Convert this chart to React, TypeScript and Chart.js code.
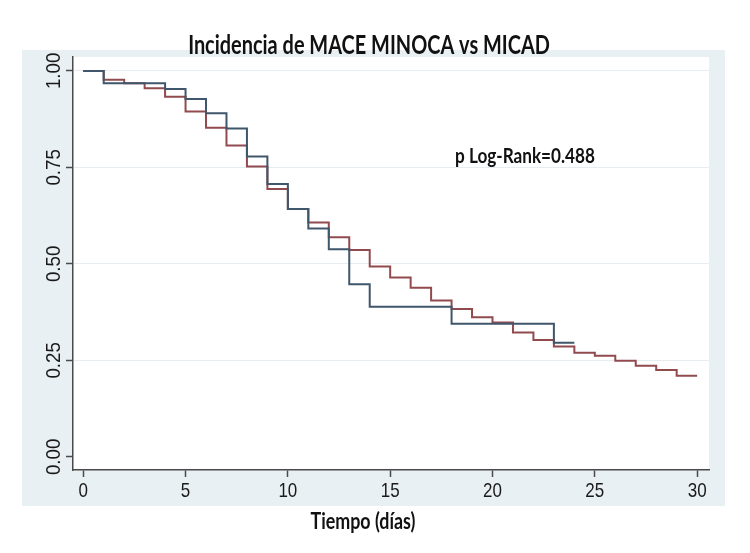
import React, { useEffect, useRef } from "react";
import { Chart, registerables } from "chart.js";

Chart.register(...registerables);

const titleText = "Incidencia de MACE MINOCA vs MICAD";
const xAxisTitle = "Tiempo (días)";
const annotationText = "p Log-Rank=0.488";
const annotationPos = { x: 18.17, y: 0.762 };

const minocaDays = [0, 1, 2, 3, 4, 5, 6, 7, 8, 9, 10, 11, 12, 13, 14, 15, 16, 17, 18, 19, 20, 21, 22, 23, 24];
const minocaValues = [1.0, 0.968, 0.968, 0.968, 0.953, 0.927, 0.89, 0.851, 0.778, 0.707, 0.642, 0.592, 0.538, 0.447, 0.389, 0.389, 0.389, 0.389, 0.345, 0.345, 0.345, 0.345, 0.345, 0.296, 0.296];

const micadDays = [0, 1, 2, 3, 4, 5, 6, 7, 8, 9, 10, 11, 12, 13, 14, 15, 16, 17, 18, 19, 20, 21, 22, 23, 24, 25, 26, 27, 28, 29, 30];
const micadValues = [1.0, 0.977, 0.968, 0.955, 0.933, 0.895, 0.853, 0.807, 0.752, 0.694, 0.642, 0.607, 0.569, 0.536, 0.493, 0.465, 0.438, 0.405, 0.383, 0.362, 0.348, 0.322, 0.303, 0.286, 0.27, 0.262, 0.249, 0.236, 0.225, 0.21, 0.21];

const xTicks = [0, 5, 10, 15, 20, 25, 30];
const yTicks = [0, 0.25, 0.5, 0.75, 1.0];

const BLUE = "#3f566b";
const RED = "#914b4f";
const AXIS = "#4a4a4a";
const GRID = "#e6ecef";
const REGION = "#e9f0f3";

function fitFont(ctx: CanvasRenderingContext2D, text: string, family: string, weight: string, targetW: number) {
  ctx.font = `${weight} 20px ${family}`;
  const w = ctx.measureText(text).width;
  return (20 * targetW) / w;
}

const decorPlugin = {
  id: "decor",
  beforeDraw(chart: any) {
    const { ctx, chartArea } = chart;
    ctx.save();
    ctx.fillStyle = "#ffffff";
    ctx.fillRect(0, 0, chart.width, chart.height);
    ctx.fillStyle = REGION;
    ctx.fillRect(22, 50, 703, 456);
    ctx.fillStyle = "#ffffff";
    ctx.fillRect(chartArea.left, chartArea.top, chartArea.right - chartArea.left, chartArea.bottom - chartArea.top);
    ctx.restore();
  },
  afterDraw(chart: any) {
    const { ctx, chartArea } = chart;
    const xs = chart.scales.x;
    const ys = chart.scales.y;
    ctx.save();
    ctx.fillStyle = "#1a1a1a";
    // x tick labels
    ctx.font = "17px 'Liberation Sans', Arial, sans-serif";
    ctx.textAlign = "center";
    ctx.textBaseline = "middle";
    for (const t of xTicks) {
      const px = xs.getPixelForValue(t);
      ctx.save();
      ctx.translate(px, chartArea.bottom + 22);
      ctx.scale(1, 1.15);
      ctx.fillText(String(t), 0, 0);
      ctx.restore();
    }
    // y tick labels, rotated
    for (const t of yTicks) {
      const py = ys.getPixelForValue(t);
      ctx.save();
      ctx.translate(chartArea.left - 18, py);
      ctx.rotate(-Math.PI / 2);
      ctx.scale(1.1, 1.15);
      ctx.fillText(t.toFixed(2), 0, 0);
      ctx.restore();
    }
    // title
    const fam = "Lato, 'Open Sans', sans-serif";
    ctx.fillStyle = "#111111";
    let size = fitFont(ctx, titleText, fam, "bold", 362);
    ctx.font = `bold ${size}px ${fam}`;
    ctx.textBaseline = "alphabetic";
    ctx.save();
    ctx.translate(369, 54);
    ctx.scale(1, 1.3);
    ctx.fillText(titleText, 0, 0);
    ctx.restore();
    // x axis title
    size = fitFont(ctx, xAxisTitle, fam, "bold", 105);
    ctx.font = `bold ${size}px ${fam}`;
    ctx.save();
    ctx.translate(363, 529);
    ctx.scale(1, 1.25);
    ctx.fillText(xAxisTitle, 0, 0);
    ctx.restore();
    // annotation
    size = fitFont(ctx, annotationText, fam, "bold", 140);
    ctx.font = `bold ${size}px ${fam}`;
    ctx.textAlign = "left";
    ctx.save();
    ctx.translate(xs.getPixelForValue(annotationPos.x), ys.getPixelForValue(annotationPos.y));
    ctx.scale(1, 1.2);
    ctx.fillText(annotationText, 0, 0);
    ctx.restore();
    ctx.restore();
  },
};

export default function App() {
  const ref = useRef<HTMLCanvasElement | null>(null);
  useEffect(() => {
    document.body.style.margin = "0";
    const canvas = ref.current;
    if (!canvas) return;
    const chart = new Chart(canvas, {
      type: "line",
      data: {
        datasets: [
          {
            label: "MINOCA",
            data: minocaDays.map((d, i) => ({ x: d, y: minocaValues[i] })),
            borderColor: BLUE,
            borderWidth: 2,
            pointRadius: 0,
            stepped: true,
            fill: false,
          },
          {
            label: "MICAD",
            data: micadDays.map((d, i) => ({ x: d, y: micadValues[i] })),
            borderColor: RED,
            borderWidth: 2,
            pointRadius: 0,
            stepped: true,
            fill: false,
          },
        ],
      },
      options: {
        animation: false,
        responsive: false,
        devicePixelRatio: 1,
        layout: { padding: { left: 0, right: 41, top: 57, bottom: 43 } },
        plugins: { legend: { display: false }, tooltip: { enabled: false }, title: { display: false } },
        scales: {
          x: {
            type: "linear",
            min: -0.5,
            max: 30.58,
            ticks: { display: false, stepSize: 5, includeBounds: false },
            grid: { drawOnChartArea: false, drawTicks: true, tickLength: 7, tickColor: AXIS, tickWidth: 1.5 },
            border: { color: AXIS, width: 1.5 },
            afterFit: (s: any) => {
              s.height = 40;
            },
          },
          y: {
            type: "linear",
            min: -0.034,
            max: 1.036,
            ticks: { display: false, stepSize: 0.25, includeBounds: false },
            grid: {
              color: (c: any) => (c.tick && c.tick.value === 0 ? "rgba(0,0,0,0)" : GRID),
              lineWidth: 1,
              drawTicks: true,
              tickLength: 7,
              tickColor: AXIS,
              tickWidth: 1.5,
            },
            border: { color: AXIS, width: 1.5 },
            afterFit: (s: any) => {
              s.width = 73;
            },
          },
        },
      },
      plugins: [decorPlugin],
    } as any);
    return () => chart.destroy();
  }, []);
  return <canvas ref={ref} width={750} height={553} style={{ display: "block", width: 750, height: 553 }} />;
}
